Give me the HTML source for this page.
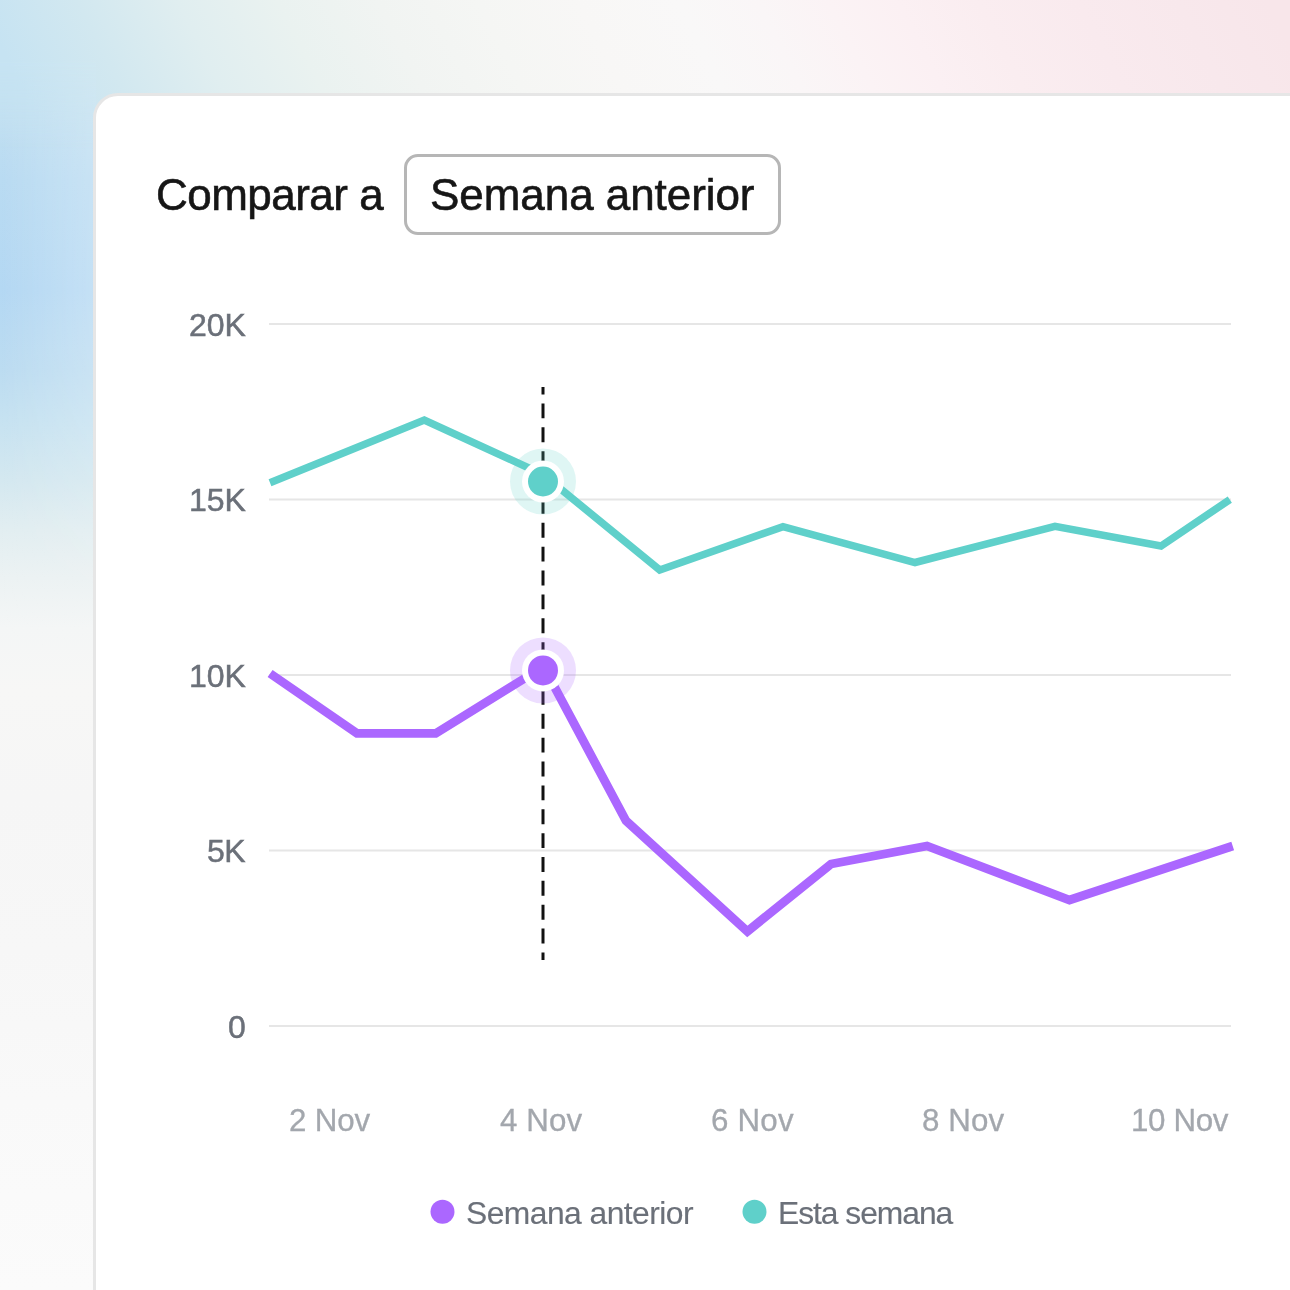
<!DOCTYPE html>
<html>
<head>
<meta charset="utf-8">
<style>
html,body{margin:0;padding:0;}
body{width:1290px;height:1290px;overflow:hidden;position:relative;font-family:"Liberation Sans",sans-serif;
background:#f5f5f5;
}
.bgl{position:absolute;left:0;top:0;width:100px;height:1290px;
background:linear-gradient(180deg, #c6e3f2 0px, #c2e0f1 100px, #b9dbf2 180px, #b4d8f3 290px, #bcdcf1 370px, #c6e2f1 420px, #d4e8f0 480px, #e2eef1 530px, #ecf2f3 578px, #f4f6f6 628px, #f7f7f6 690px, #f6f6f6 800px, #f7f7f7 950px, #f9f9f9 1100px, #fbfbfb 1290px);}
.bglo{position:absolute;left:0;top:0;width:100px;height:1290px;background:linear-gradient(90deg, rgba(255,255,255,0) 0px, rgba(255,255,255,0.22) 93px);
-webkit-mask-image:linear-gradient(180deg,#000 0px,#000 350px,rgba(0,0,0,0) 650px);mask-image:linear-gradient(180deg,#000 0px,#000 350px,rgba(0,0,0,0) 650px);}
.bgt1{position:absolute;left:96px;top:0;width:1194px;height:130px;background:linear-gradient(63deg, #c6e3f2 -46.9px, #d2e8f0 42.2px, #e0eef0 131.3px, #eaf2f0 220.4px, #f1f4f2 309.5px, #f5f6f4 398.6px, #f8f7f6 487.7px, #f9f8f8 576.8px, #faf6f7 648.0px, #fbf3f5 710.4px, #fbf0f3 772.8px, #faedf0 844.1px, #f9eaee 933.2px, #f8e8ec 1022.3px, #f8e6ea 1102.5px);}
.bgt2{position:absolute;left:0;top:0;width:96px;height:150px;background:linear-gradient(63deg, #c6e3f2 47.7px, #d2e8f0 136.8px, #e0eef0 225.9px, #eaf2f0 315.0px, #f1f4f2 404.1px, #f5f6f4 493.2px, #f8f7f6 582.3px, #f9f8f8 671.4px, #faf6f7 742.7px, #fbf3f5 805.0px, #fbf0f3 867.4px, #faedf0 938.7px, #f9eaee 1027.8px, #f8e8ec 1116.9px, #f8e6ea 1197.1px);
-webkit-mask-image:linear-gradient(180deg,#000 0px,#000 60px,rgba(0,0,0,0) 150px);mask-image:linear-gradient(180deg,#000 0px,#000 60px,rgba(0,0,0,0) 150px);}
.card{position:absolute;left:93px;top:93px;width:1300px;height:1300px;box-sizing:border-box;border:3px solid #e6e6e6;border-radius:25px;background:#fff;}
.abs{position:absolute;white-space:nowrap;will-change:transform;-webkit-font-smoothing:antialiased;}
.h{font-size:44px;color:#161616;line-height:1;-webkit-text-stroke:0.6px #161616;}
.sel{position:absolute;left:403.5px;top:154.3px;width:377.5px;height:81px;box-sizing:border-box;border:3.2px solid #b6b6b6;border-radius:14px;background:#fff;}
.yl{font-size:32px;color:#6b7079;line-height:1;-webkit-text-stroke:0.5px #6b7079;}
.xl{font-size:31.3px;color:#a3a7ad;line-height:1;-webkit-text-stroke:0.3px #a3a7ad;}
.lg{font-size:31.8px;color:#6b7079;line-height:1;-webkit-text-stroke:0.15px #6b7079;}
svg{position:absolute;left:0;top:0;}
</style>
</head>
<body>
<div class="bgl"></div><div class="bglo"></div><div class="bgt1"></div><div class="bgt2"></div>
<div class="card"></div>
<div class="abs h" style="left:156.05px;top:173.4px;letter-spacing:-0.52px;">Comparar a</div>
<div class="sel"></div>
<div class="abs h" style="left:430.05px;top:173.4px;letter-spacing:-0.055px;">Semana anterior</div>

<div class="abs yl" style="left:188.72px;top:309.05px;letter-spacing:-0.1px;">20K</div>
<div class="abs yl" style="left:188.72px;top:484.45px;letter-spacing:-0.1px;">15K</div>
<div class="abs yl" style="left:188.72px;top:659.9px;letter-spacing:-0.1px;">10K</div>
<div class="abs yl" style="left:207.02px;top:835.45px;letter-spacing:-0.6px;">5K</div>
<div class="abs yl" style="left:228.28px;top:1010.9px;letter-spacing:0px;">0</div>

<svg width="1290" height="1290" viewBox="0 0 1290 1290">
 <g stroke="#e6e6e6" stroke-width="2">
  <line x1="269" y1="324" x2="1231" y2="324"/>
  <line x1="269" y1="499.5" x2="1231" y2="499.5"/>
  <line x1="269" y1="675" x2="1231" y2="675"/>
  <line x1="269" y1="850.5" x2="1231" y2="850.5"/>
  <line x1="269" y1="1026" x2="1231" y2="1026"/>
 </g>
 <polyline fill="none" stroke="#5fd0ca" stroke-width="7.5" stroke-linejoin="miter" points="270,482.8 424.3,420 543,474.5 659.7,570 783,526.6 915,562.5 1055,526.3 1161,546 1229.8,499.6"/>
 <polyline fill="none" stroke="#ab67ff" stroke-width="8.8" stroke-linejoin="miter" points="270.1,673.5 357,733.4 435.7,733.4 543.7,666.6 626,820.8 747.4,931.4 831,864 927,846 1069.5,900 1232.7,846"/>
 <line x1="543" y1="387" x2="543" y2="960" stroke="#111" stroke-width="3" stroke-dasharray="14.9 8.97" stroke-dashoffset="7.4"/>
 <circle cx="543" cy="481.5" r="33" fill="#5fd0ca" fill-opacity="0.2"/>
 <circle cx="543" cy="481.5" r="21" fill="#fff"/>
 <circle cx="543" cy="481.5" r="15" fill="#5fd0ca"/>
 <circle cx="543" cy="670.4" r="33" fill="#ab67ff" fill-opacity="0.22"/>
 <circle cx="543" cy="670.4" r="21" fill="#fff"/>
 <circle cx="543" cy="670.4" r="15" fill="#ab67ff"/>
 <circle cx="442.5" cy="1211.7" r="12" fill="#ab67ff"/>
 <circle cx="754.5" cy="1211.7" r="12" fill="#5fd0ca"/>
</svg>

<div class="abs xl" style="left:289.01px;top:1105px;letter-spacing:-0.121px;">2 Nov</div>
<div class="abs xl" style="left:500.37px;top:1105px;letter-spacing:0.129px;">4 Nov</div>
<div class="abs xl" style="left:711.35px;top:1105px;letter-spacing:0.192px;">6 Nov</div>
<div class="abs xl" style="left:921.65px;top:1105px;letter-spacing:0.129px;">8 Nov</div>
<div class="abs xl" style="left:1130.9px;top:1105px;letter-spacing:-0.328px;">10 Nov</div>

<div class="abs lg" style="left:465.9px;top:1198px;letter-spacing:-0.54px;">Semana anterior</div>
<div class="abs lg" style="left:778.1px;top:1198px;letter-spacing:-1.03px;">Esta semana</div>
</body>
</html>
